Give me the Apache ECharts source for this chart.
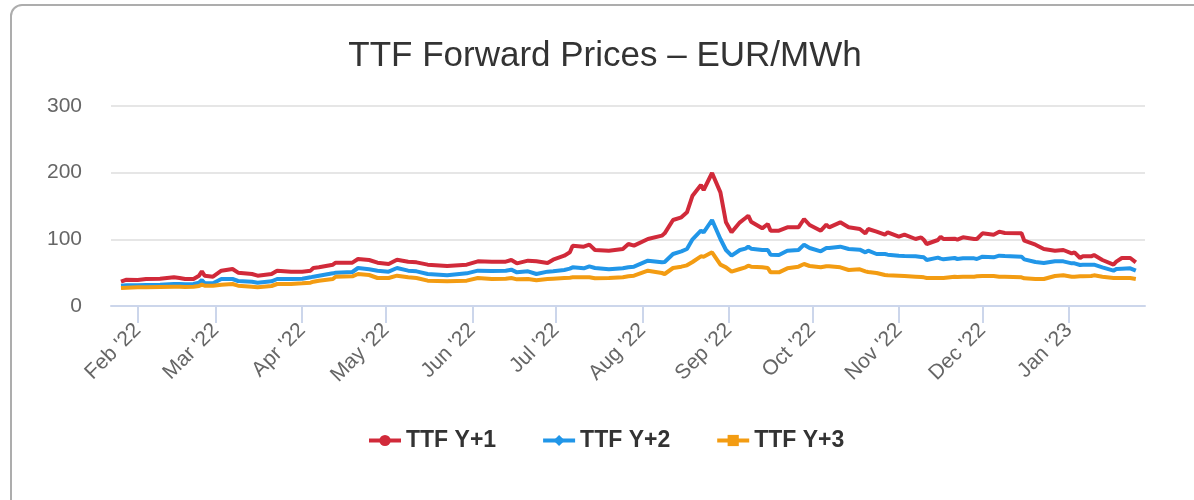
<!DOCTYPE html>
<html>
<head>
<meta charset="utf-8">
<title>TTF Forward Prices</title>
<script src="https://cdn.jsdelivr.net/npm/echarts@6/dist/echarts.min.js"></script>
<style>
  html, body { margin: 0; padding: 0; background: #fff; overflow: hidden; }
  #frame { position: absolute; left: 10px; top: 4px; width: 1300px; height: 600px; border: 2px solid #adadad; border-radius: 12px; box-sizing: border-box; }
  #chart { position: absolute; left: 0; top: 0; width: 1194px; height: 500px; }
</style>
</head>
<body>
<div id="frame"></div>
<div id="chart"></div>
<script>
// trading days (EUR/MWh)
const dates = [
  '2022-01-26', '2022-01-28', '2022-02-01', '2022-02-04', '2022-02-09', '2022-02-14', '2022-02-16', '2022-02-18',
  '2022-02-21', '2022-02-23', '2022-02-24', '2022-02-25', '2022-02-28', '2022-03-03', '2022-03-07', '2022-03-09',
  '2022-03-14', '2022-03-16', '2022-03-21', '2022-03-23', '2022-03-28', '2022-04-01', '2022-04-04', '2022-04-05',
  '2022-04-07', '2022-04-12', '2022-04-13', '2022-04-19', '2022-04-21', '2022-04-25', '2022-04-28', '2022-05-02',
  '2022-05-05', '2022-05-09', '2022-05-12', '2022-05-16', '2022-05-23', '2022-05-30', '2022-06-03', '2022-06-08',
  '2022-06-13', '2022-06-15', '2022-06-17', '2022-06-21', '2022-06-24', '2022-06-28', '2022-06-30', '2022-07-04',
  '2022-07-06', '2022-07-07', '2022-07-11', '2022-07-13', '2022-07-15', '2022-07-20', '2022-07-25', '2022-07-27',
  '2022-07-29', '2022-08-03', '2022-08-08', '2022-08-09', '2022-08-12', '2022-08-15', '2022-08-17', '2022-08-19',
  '2022-08-22', '2022-08-23', '2022-08-26', '2022-08-29', '2022-08-31', '2022-09-02', '2022-09-05', '2022-09-07',
  '2022-09-08', '2022-09-09', '2022-09-13', '2022-09-15', '2022-09-16', '2022-09-19', '2022-09-22', '2022-09-26',
  '2022-09-28', '2022-09-30', '2022-10-04', '2022-10-06', '2022-10-07', '2022-10-11', '2022-10-14', '2022-10-18',
  '2022-10-20', '2022-10-21', '2022-10-24', '2022-10-27', '2022-10-28', '2022-11-01', '2022-11-03', '2022-11-07',
  '2022-11-09', '2022-11-10', '2022-11-11', '2022-11-15', '2022-11-16', '2022-11-17', '2022-11-21', '2022-11-22',
  '2022-11-24', '2022-11-28', '2022-11-29', '2022-12-01', '2022-12-05', '2022-12-07', '2022-12-09', '2022-12-15',
  '2022-12-16', '2022-12-20', '2022-12-23', '2022-12-27', '2022-12-30', '2023-01-02', '2023-01-03', '2023-01-05',
  '2023-01-06', '2023-01-09', '2023-01-10', '2023-01-13', '2023-01-17', '2023-01-18', '2023-01-20', '2023-01-23',
  '2023-01-25'
];

const ttfY1 = [
  36.5, 39.5, 39, 40.5, 41, 43, 42, 40.5,
  40.5, 45.5, 52, 45.5, 44, 53, 55.5, 50,
  48, 45.5, 48, 53, 51.5, 51.5, 53, 57,
  58, 62, 65, 65, 70.5, 69, 65, 63,
  69.5, 66.5, 65.5, 62, 60, 62, 67, 66.5,
  66.5, 69, 64, 68, 67, 64.5, 69.5, 75.5,
  80.5, 90.5, 89, 92, 84, 83, 85.5, 93,
  90.5, 100.5, 105.5, 109, 129, 133, 140.5, 165.5,
  181.5, 174, 199.5, 170.5, 125.5, 110.5, 125.5, 132,
  135.5, 126.5, 116.5, 123, 113, 113, 118, 118,
  130.5, 121.5, 113, 122, 118, 125.5, 118, 115.5,
  109, 115.5, 111.5, 107, 110.5, 104, 107, 100.5,
  103, 99, 93, 99, 104, 100.5, 101, 99.5,
  103, 100.5, 100.5, 109, 107, 111.5, 109.5, 109,
  98, 92, 85.5, 83, 84, 79, 80.5, 72,
  74.5, 74.5, 76.5, 69, 62, 66.5, 72, 72,
  65.5
];

const ttfY2 = [
  30.5, 31, 31, 31.5, 32, 33, 33, 32.5,
  33, 35, 39, 34.5, 34, 40.5, 40.5, 37.5,
  36.5, 35, 37, 40.5, 40.5, 41, 43, 44,
  45.5, 49, 50, 51, 57, 55, 53, 51.5,
  57, 53, 52, 48, 46, 49, 53, 52.5,
  53, 54.5, 50.5, 52, 48, 51.5, 52, 54,
  56, 58, 56.5, 59.5, 57, 55, 56.5, 58,
  59, 68, 65.5, 66, 78, 82, 85.5, 100,
  113, 110.5, 129, 100.5, 84, 75.5, 84, 86,
  89, 86, 84, 84, 77, 76.5, 83, 84,
  92, 87, 82, 87, 87, 89, 85.5, 84.5,
  80.5, 83, 78, 78, 77, 75.5, 75, 74.5,
  73.5, 73, 69, 72.5, 71, 70, 72, 70.5,
  71.5, 71.5, 70.5, 74, 73, 75.5, 75, 74,
  70, 66, 64.5, 67, 67, 64, 64, 61.5,
  62, 62, 62, 58, 53, 55.5, 56, 56.5,
  53
];

const ttfY3 = [
  27, 27.5, 28, 28, 28.5, 29, 29, 28.5,
  29, 30, 32, 30.5, 30.5, 32, 33, 30.5,
  29, 28, 30, 33, 33, 34, 35, 36.5,
  38, 40.5, 44, 44.5, 48, 46.5, 42, 42,
  45.5, 43, 42, 38, 37, 38, 42, 40.5,
  41, 42, 40, 40.5, 38.5, 40.5, 41, 42,
  42.5, 43, 43, 43, 41.5, 42, 43, 44.5,
  45.5, 53, 49.5, 48, 57, 59, 61, 66,
  74.5, 74, 80.5, 62, 58, 51.5, 55.5, 58,
  60.5, 59, 58, 57, 50.5, 50.5, 56.5, 59,
  63, 60, 58, 59.5, 59.5, 58, 54, 55,
  52, 51, 49.5, 46.5, 46, 45.5, 45, 44,
  43.5, 43, 42, 42, 42, 42, 44, 43.5,
  44, 44, 44.5, 45, 45, 44, 44, 43,
  41.5, 40.5, 40.5, 45, 46, 44, 44, 44.5,
  44.5, 45, 46, 44, 42, 42, 42, 42,
  40.5
];

const seriesNames = ['TTF Y+1', 'TTF Y+2', 'TTF Y+3'];
const monthNames = ['Jan', 'Feb', 'Mar', 'Apr', 'May', 'Jun', 'Jul', 'Aug', 'Sep', 'Oct', 'Nov', 'Dec'];

function toTime(s) {
  const p = s.split('-').map(Number);
  return new Date(p[0], p[1] - 1, p[2]).getTime();
}

const DAY = 86400000;
const chart = echarts.init(document.getElementById('chart'));

const makeSeries = (name, values, color, symbol) => ({
  name: name,
  type: 'line',
  symbol: symbol,
  symbolSize: 10,
  showSymbol: false,
  lineStyle: { width: 4, color: color },
  itemStyle: { color: color },
  emphasis: { disabled: true },
  data: dates.map((d, i) => [toTime(d), values[i]])
});

chart.setOption({
  animation: false,
  backgroundColor: 'transparent',
  textStyle: { fontFamily: 'Liberation Sans, Arial, sans-serif' },
  title: {
    text: 'TTF Forward Prices \u2013 EUR/MWh',
    left: 600,
    top: 34,
    textAlign: 'center',
    textStyle: { color: '#333333', fontSize: 35, fontWeight: 'normal' }
  },
  legend: {
    top: 424,
    left: 362,
    itemWidth: 32,
    itemHeight: 14,
    itemGap: 45,
    lineStyle: { width: 4 },
    textStyle: { color: '#333333', fontSize: 23, fontWeight: 'bold' },
    data: seriesNames
  },
  grid: { left: 111, right: 49, top: 106, bottom: 194, containLabel: false },
  xAxis: {
    type: 'time',
    min: new Date(2022, 0, 22, 10).getTime(),
    max: new Date(2023, 0, 28, 7).getTime(),
    minInterval: 28 * DAY,
    maxInterval: 31 * DAY,
    axisLine: { lineStyle: { color: '#ccd6eb', width: 2 } },
    axisTick: { show: true, length: 17, lineStyle: { color: '#ccd6eb', width: 2 } },
    splitLine: { show: false },
    axisLabel: {
      rotate: 45,
      margin: 21,
      color: '#666666',
      fontSize: 21,
      showMinLabel: false,
      showMaxLabel: false,
      formatter: (val) => {
        const d = new Date(val);
        return monthNames[d.getMonth()] + " '" + String(d.getFullYear()).slice(2);
      }
    }
  },
  yAxis: {
    type: 'value',
    min: 0,
    max: 300,
    interval: 100,
    axisLine: { show: false },
    axisTick: { show: false },
    axisLabel: { color: '#666666', fontSize: 21, margin: 29 },
    splitLine: { lineStyle: { color: '#e6e6e6', width: 2 } }
  },
  series: [
    makeSeries(seriesNames[0], ttfY1, '#d12a3a', 'circle'),
    makeSeries(seriesNames[1], ttfY2, '#2196e8', 'diamond'),
    makeSeries(seriesNames[2], ttfY3, '#f39c12', 'rect')
  ]
});
</script>
</body>
</html>
